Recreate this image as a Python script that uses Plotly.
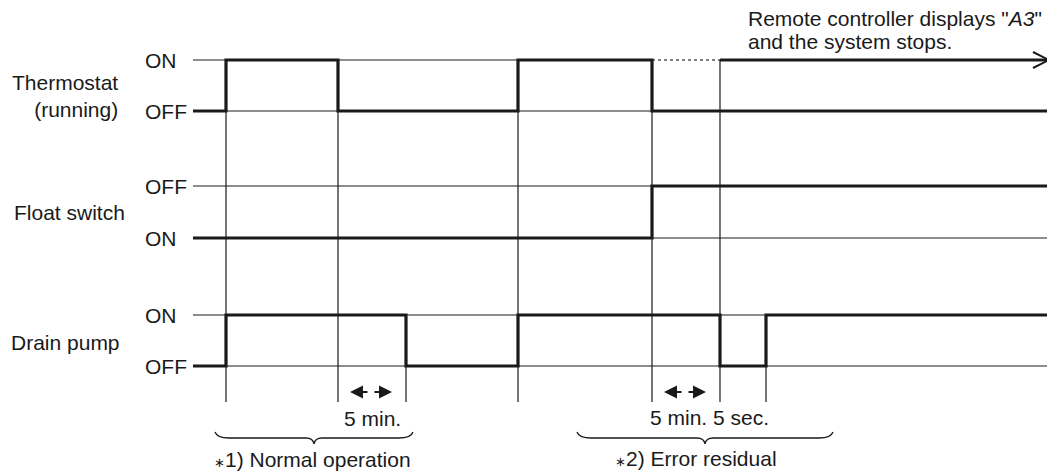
import plotly.graph_objects as go

# ---------------- data (time units, arbitrary scale) ----------------
t_end = 857
therm_t = [0, 33, 145, 325, 459]
therm_s = [0, 1, 0, 1, 0]          # 1 = ON, 0 = OFF
float_t = [0, 459]
float_s = [0, 1]                   # 1 = OFF (upper), 0 = ON (lower)
pump_t = [0, 33, 213, 325, 527, 573]
pump_s = [0, 1, 0, 1, 0, 1]        # 1 = ON, 0 = OFF

guide_full_t = [33, 145, 325, 459, 527]     # guides from thermostat down
guide_pump_t = [213, 573]                   # guides from drain pump down
interval_a = [145, 213]   # "5 min."
interval_b = [459, 527]   # "5 min. 5 sec." arrow
interval_b_text = [459, 573]
stop_t = 527              # remote controller display starts
brace1 = [22, 220]
brace2 = [384, 640]

row_names = ["Thermostat<br>(running)", "Float switch", "Drain pump"]
level_labels = [("ON", "OFF"), ("OFF", "ON"), ("ON", "OFF")]

# ---------------- layout constants (pixels) ----------------
PAD = 8                      # page body margin
W, H = 1055 - PAD, 473 - PAD
X0 = 193
rows = [(60, 111), (186, 238), (315, 366)]   # (upper, lower) pixel levels
guide_bottom = 402
FONT = "Liberation Sans, Arial, sans-serif"
FS = 21
INK = "#1a1a1a"

fig = go.Figure()

def add_line(xs, ys, width=1, dash="solid", color=INK, shape="linear"):
    fig.add_trace(go.Scatter(x=xs, y=ys, mode="lines",
                             line=dict(color=color, width=width, dash=dash, shape=shape),
                             hoverinfo="skip", showlegend=False))

# thin reference lines
for i, (up, lo) in enumerate(rows):
    if i == 0:
        add_line([0, interval_b[0]], [up, up])
        add_line([interval_b[0], stop_t], [up, up], width=1.5, dash="dot", color="#555")
    else:
        add_line([0, t_end], [up, up])
    add_line([0, t_end], [lo, lo])

# vertical guides
for t in guide_full_t:
    add_line([t, t], [rows[0][0], guide_bottom], width=1.2)
for t in guide_pump_t:
    add_line([t, t], [rows[2][0], guide_bottom], width=1.2)

# thick signals (step)
def signal(ts, ss, row):
    up, lo = row
    xs = list(ts) + [t_end]
    ys = [up if s else lo for s in ss] + [up if ss[-1] else lo]
    add_line(xs, ys, width=3.2, shape="hv")

signal(therm_t, therm_s, rows[0])
signal(float_t, float_s, rows[1])
signal(pump_t, pump_s, rows[2])

# remote-controller stop arrow
yA = rows[0][0]
add_line([stop_t, t_end - 2], [yA, yA], width=3.2)
add_line([t_end - 17, t_end - 1, t_end - 17], [yA - 8, yA, yA + 8], width=2)

annotations = []

def txt(x, y, s, xanchor="center", size=FS, align="center"):
    annotations.append(dict(x=x, y=y, xref="x", yref="y", text=s, showarrow=False,
                            xanchor=xanchor, yanchor="middle", align=align,
                            font=dict(family=FONT, size=size, color=INK)))

# row labels
txt(120 - X0, 96, row_names[0], xanchor="right", align="right")
txt(127 - X0, 212, row_names[1], xanchor="right")
txt(122 - X0, 342, row_names[2], xanchor="right")
for (up, lo), (lu, ll) in zip(rows, level_labels):
    txt(143 - X0, up, lu, xanchor="left")
    txt(143 - X0, lo, ll, xanchor="left")

# double arrows
def dbl_arrow(a, b, y=392):
    left, right = a + 12, b - 14
    mid = (left + right) / 2
    for head, tail in ((left, mid - 2), (right, mid + 2)):
        annotations.append(dict(x=head, y=y, ax=tail, ay=y, xref="x", yref="y",
                                axref="x", ayref="y", text="", showarrow=True,
                                arrowhead=2, arrowsize=1.3, arrowwidth=2, arrowcolor=INK))

dbl_arrow(*interval_a)
dbl_arrow(*interval_b)
txt(sum(interval_a) / 2, 418, "5 min.")
txt(sum(interval_b_text) / 2, 417, "5 min. 5 sec.")

# braces
shapes = []
def brace(a, b, y0=432, yh=438, ytip=444):
    m = (a + b) / 2
    path = (f"M {a},{y0} Q {a+2},{yh} {a+14},{yh} L {m-8},{yh} Q {m-1},{yh} {m},{ytip} "
            f"Q {m+1},{yh} {m+8},{yh} L {b-14},{yh} Q {b-2},{yh} {b},{y0}")
    shapes.append(dict(type="path", path=path, xref="x", yref="y",
                       line=dict(color=INK, width=1.3)))

brace(*brace1)
brace(*brace2)
STAR = '<span style="font-size:13px">∗</span>'
txt((brace1[0] + brace1[1]) / 2 - 2, 459, STAR + "1) Normal operation")
txt((brace2[0] + brace2[1]) / 2 - 9, 458, STAR + "2) Error residual")

# top note
txt(746 - X0, 18, 'Remote controller displays "<i>A3</i>"', xanchor="left")
txt(746 - X0, 41, "and the system stops.", xanchor="left")

# axes are offset by PAD so that figure coordinates equal window pixels
fig.update_layout(
    width=W, height=H, margin=dict(l=0, r=0, t=0, b=0),
    paper_bgcolor="white", plot_bgcolor="white",
    xaxis=dict(range=[-X0 + PAD, W - X0 + PAD], visible=False, fixedrange=True),
    yaxis=dict(range=[H + PAD, PAD], visible=False, fixedrange=True),
    annotations=annotations, shapes=shapes, showlegend=False,
)

fig.write_html("out.html")
